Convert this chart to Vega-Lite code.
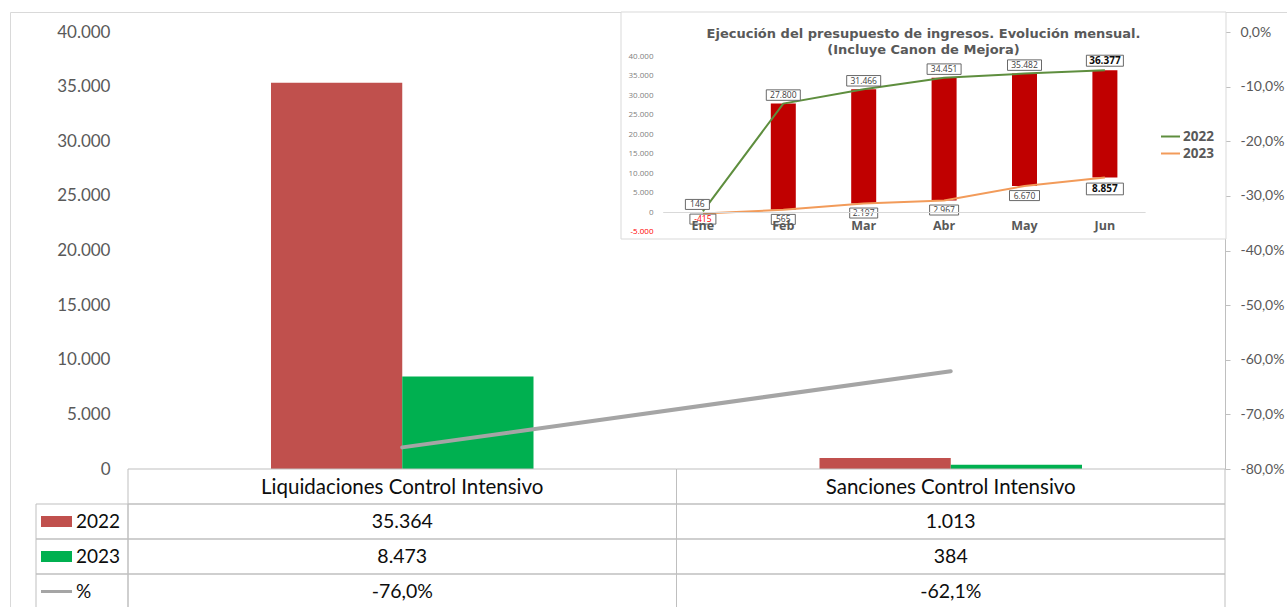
{
  "$schema": "https://vega.github.io/schema/vega-lite/v6.json",
  "width": 1282,
  "height": 600,
  "autosize": {"type": "none"},
  "padding": {"left": 10, "top": 12, "right": -5, "bottom": -5},
  "background": "white",
  "config": {
    "font": "Lato",
    "view": {"stroke": "#D9D9D9", "strokeWidth": 1},
    "locale": {"number": {"decimal": ",", "thousands": ".", "grouping": [3], "currency": ["", " €"], "minus": "-"}}
  },
  "datasets": {
    "main": [
      {"cat": "Liquidaciones Control Intensivo", "serie": "2022", "value": 35364},
      {"cat": "Liquidaciones Control Intensivo", "serie": "2023", "value": 8473},
      {"cat": "Sanciones Control Intensivo", "serie": "2022", "value": 1013},
      {"cat": "Sanciones Control Intensivo", "serie": "2023", "value": 384}
    ],
    "pct": [
      {"cat": "Liquidaciones Control Intensivo", "pct": -0.7604},
      {"cat": "Sanciones Control Intensivo", "pct": -0.6209}
    ],
    "legend": [{"serie": "2022"}, {"serie": "2023"}, {"serie": "%"}],
    "inset": [
      {"month": "Ene", "2022": 146, "2023": -415},
      {"month": "Feb", "2022": 27800, "2023": 565},
      {"month": "Mar", "2022": 31466, "2023": 2197},
      {"month": "Abr", "2022": 34451, "2023": 2967},
      {"month": "May", "2022": 35482, "2023": 6670},
      {"month": "Jun", "2022": 36377, "2023": 8857}
    ],
    "frame": [{"panel": "inset"}]
  },
  "resolve": {
    "scale": {"x": "independent", "y": "independent", "xOffset": "independent", "color": "independent", "shape": "independent"},
    "axis": {"x": "independent", "y": "independent"},
    "legend": {"color": "independent", "shape": "independent"}
  },
  "layer": [
    {
      "data": {"name": "main"},
      "mark": {"type": "bar"},
      "encoding": {
        "x": {"field": "cat", "type": "nominal", "scale": {"type": "band", "domain": ["Liquidaciones Control Intensivo", "Sanciones Control Intensivo"], "range": [118, 1215], "paddingInner": 0, "paddingOuter": 0}, "axis": null},
        "xOffset": {"field": "serie", "type": "nominal", "scale": {"domain": ["2022", "2023"], "range": [143, 405.5], "paddingInner": 0, "paddingOuter": 0}},
        "y": {"field": "value", "type": "quantitative", "scale": {"domain": [0, 40000], "range": [457, 20], "nice": false}, "axis": {"orient": "left", "offset": -100, "domain": false, "ticks": false, "tickSize": 0, "grid": false, "labelPadding": 0, "values": [0, 5000, 10000, 15000, 20000, 25000, 30000, 35000, 40000], "format": ",.0f", "labelFontSize": 17, "labelColor": "#595959", "title": null}},
        "color": {"field": "serie", "type": "nominal", "scale": {"domain": ["2022", "2023"], "range": ["#C0504D", "#00B050"]}, "legend": null}
      }
    },
    {
      "data": {"name": "pct"},
      "mark": {"type": "line", "color": "#A5A5A5", "strokeWidth": 4, "strokeCap": "round"},
      "encoding": {
        "x": {"field": "cat", "type": "nominal", "scale": {"type": "band", "domain": ["Liquidaciones Control Intensivo", "Sanciones Control Intensivo"], "range": [118, 1215], "paddingInner": 0, "paddingOuter": 0}, "axis": null},
        "y": {"field": "pct", "type": "quantitative", "scale": {"domain": [-0.8, 0], "range": [457, 20], "nice": false, "zero": false}, "axis": {"orient": "right", "offset": -67, "domain": true, "domainColor": "#BFBFBF", "ticks": true, "tickColor": "#BFBFBF", "tickSize": 5, "grid": false, "labelPadding": 10, "values": [-0.8, -0.7, -0.6, -0.5, -0.4, -0.3, -0.2, -0.1, 0], "format": ".1%", "labelFontSize": 14, "labelColor": "#595959", "title": null}}
      }
    },
    {
      "data": {"name": "pct"},
      "mark": {"type": "rect", "filled": false, "stroke": "#BFBFBF", "strokeWidth": 1},
      "encoding": {
        "x": {"field": "cat", "type": "nominal", "scale": {"type": "band", "domain": ["Liquidaciones Control Intensivo", "Sanciones Control Intensivo"], "range": [118, 1215], "paddingInner": 0, "paddingOuter": 0}, "axis": null},
        "y": {"datum": "hdr", "type": "nominal", "scale": {"type": "band", "domain": ["hdr", "2022", "2023", "%"], "range": [457, 597], "paddingInner": 0, "paddingOuter": 0}, "axis": null}
      }
    },
    {
      "data": {"name": "main"},
      "mark": {"type": "rect", "filled": false, "stroke": "#BFBFBF", "strokeWidth": 1},
      "encoding": {
        "x": {"field": "cat", "type": "nominal", "scale": {"type": "band", "domain": ["Liquidaciones Control Intensivo", "Sanciones Control Intensivo"], "range": [118, 1215], "paddingInner": 0, "paddingOuter": 0}, "axis": null},
        "y": {"field": "serie", "type": "nominal", "scale": {"type": "band", "domain": ["hdr", "2022", "2023", "%"], "range": [457, 597], "paddingInner": 0, "paddingOuter": 0}, "axis": null}
      }
    },
    {
      "data": {"name": "pct"},
      "mark": {"type": "rect", "filled": false, "stroke": "#BFBFBF", "strokeWidth": 1},
      "encoding": {
        "x": {"field": "cat", "type": "nominal", "scale": {"type": "band", "domain": ["Liquidaciones Control Intensivo", "Sanciones Control Intensivo"], "range": [118, 1215], "paddingInner": 0, "paddingOuter": 0}, "axis": null},
        "y": {"datum": "%", "type": "nominal", "scale": {"type": "band", "domain": ["hdr", "2022", "2023", "%"], "range": [457, 597], "paddingInner": 0, "paddingOuter": 0}, "axis": null}
      }
    },
    {
      "data": {"name": "legend"},
      "mark": {"type": "rect", "filled": false, "stroke": "#BFBFBF", "strokeWidth": 1},
      "encoding": {
        "x": {"datum": "L", "type": "nominal", "scale": {"type": "band", "domain": ["L"], "range": [26, 118], "paddingInner": 0, "paddingOuter": 0}, "axis": null},
        "y": {"field": "serie", "type": "nominal", "scale": {"type": "band", "domain": ["hdr", "2022", "2023", "%"], "range": [457, 597], "paddingInner": 0, "paddingOuter": 0}, "axis": null}
      }
    },
    {
      "data": {"name": "legend"},
      "transform": [{"filter": "datum.serie != '%'"}],
      "mark": {"type": "point", "filled": true, "opacity": 1, "size": 961},
      "encoding": {
        "x": {"datum": "L", "type": "nominal", "bandPosition": 0.223, "scale": {"type": "band", "domain": ["L"], "range": [26, 118], "paddingInner": 0, "paddingOuter": 0}, "axis": null},
        "y": {"field": "serie", "type": "nominal", "scale": {"type": "band", "domain": ["hdr", "2022", "2023", "%"], "range": [457, 597], "paddingInner": 0, "paddingOuter": 0}, "axis": null},
        "shape": {"field": "serie", "type": "nominal", "scale": {"domain": ["2022", "2023"], "range": ["M-1,-0.355H1V0.355H-1Z", "M-1,-0.355H1V0.355H-1Z"]}, "legend": null},
        "color": {"field": "serie", "type": "nominal", "scale": {"domain": ["2022", "2023"], "range": ["#C0504D", "#00B050"]}, "legend": null}
      }
    },
    {
      "data": {"name": "legend"},
      "transform": [{"filter": "datum.serie == '%'"}],
      "mark": {"type": "point", "filled": false, "opacity": 1, "size": 961, "shape": "M-1,0H1", "stroke": "#A5A5A5", "strokeWidth": 3},
      "encoding": {
        "x": {"datum": "L", "type": "nominal", "bandPosition": 0.223, "scale": {"type": "band", "domain": ["L"], "range": [26, 118], "paddingInner": 0, "paddingOuter": 0}, "axis": null},
        "y": {"field": "serie", "type": "nominal", "scale": {"type": "band", "domain": ["hdr", "2022", "2023", "%"], "range": [457, 597], "paddingInner": 0, "paddingOuter": 0}, "axis": null}
      }
    },
    {
      "data": {"name": "legend"},
      "mark": {"type": "text", "align": "left", "baseline": "middle", "fontSize": 19, "color": "#0D0D0D"},
      "encoding": {
        "x": {"datum": "L", "type": "nominal", "bandPosition": 0.435, "scale": {"type": "band", "domain": ["L"], "range": [26, 118], "paddingInner": 0, "paddingOuter": 0}, "axis": null},
        "y": {"field": "serie", "type": "nominal", "scale": {"type": "band", "domain": ["hdr", "2022", "2023", "%"], "range": [457, 597], "paddingInner": 0, "paddingOuter": 0}, "axis": null},
        "text": {"field": "serie", "type": "nominal"}
      }
    },
    {
      "data": {"name": "pct"},
      "mark": {"type": "text", "align": "center", "baseline": "middle", "fontSize": 20.5, "color": "#0D0D0D"},
      "encoding": {
        "x": {"field": "cat", "type": "nominal", "scale": {"type": "band", "domain": ["Liquidaciones Control Intensivo", "Sanciones Control Intensivo"], "range": [118, 1215], "paddingInner": 0, "paddingOuter": 0}, "axis": null},
        "y": {"datum": "hdr", "type": "nominal", "bandPosition": 0.55, "scale": {"type": "band", "domain": ["hdr", "2022", "2023", "%"], "range": [457, 597], "paddingInner": 0, "paddingOuter": 0}, "axis": null},
        "text": {"field": "cat", "type": "nominal"}
      }
    },
    {
      "data": {"name": "main"},
      "mark": {"type": "text", "align": "center", "baseline": "middle", "fontSize": 19.5, "color": "#0D0D0D"},
      "encoding": {
        "x": {"field": "cat", "type": "nominal", "scale": {"type": "band", "domain": ["Liquidaciones Control Intensivo", "Sanciones Control Intensivo"], "range": [118, 1215], "paddingInner": 0, "paddingOuter": 0}, "axis": null},
        "y": {"field": "serie", "type": "nominal", "scale": {"type": "band", "domain": ["hdr", "2022", "2023", "%"], "range": [457, 597], "paddingInner": 0, "paddingOuter": 0}, "axis": null},
        "text": {"field": "value", "type": "quantitative", "format": ",.0f"}
      }
    },
    {
      "data": {"name": "pct"},
      "mark": {"type": "text", "align": "center", "baseline": "middle", "fontSize": 19.5, "color": "#0D0D0D"},
      "encoding": {
        "x": {"field": "cat", "type": "nominal", "scale": {"type": "band", "domain": ["Liquidaciones Control Intensivo", "Sanciones Control Intensivo"], "range": [118, 1215], "paddingInner": 0, "paddingOuter": 0}, "axis": null},
        "y": {"datum": "%", "type": "nominal", "scale": {"type": "band", "domain": ["hdr", "2022", "2023", "%"], "range": [457, 597], "paddingInner": 0, "paddingOuter": 0}, "axis": null},
        "text": {"field": "pct", "type": "quantitative", "format": ".1%"}
      }
    },
    {
      "data": {"name": "frame"},
      "mark": {"type": "rect", "fill": "white", "stroke": "#D9D9D9", "strokeWidth": 1},
      "encoding": {
        "x": {"field": "panel", "type": "nominal", "scale": {"type": "band", "domain": ["inset"], "range": [611, 1216], "paddingInner": 0, "paddingOuter": 0}, "axis": null},
        "y": {"field": "panel", "type": "nominal", "scale": {"type": "band", "domain": ["inset"], "range": [0, 227], "paddingInner": 0, "paddingOuter": 0}, "axis": null}
      }
    },
    {
      "data": {"name": "frame"},
      "mark": {"type": "text", "text": ["Ejecución del presupuesto de ingresos. Evolución mensual.", "(Incluye Canon de Mejora)"], "align": "center", "baseline": "middle", "lineHeight": 15.5, "font": "DejaVu Sans", "fontSize": 13, "fontWeight": "bold", "color": "#595959"},
      "encoding": {
        "x": {"field": "panel", "type": "nominal", "scale": {"type": "band", "domain": ["inset"], "range": [611, 1216], "paddingInner": 0, "paddingOuter": 0}, "axis": null},
        "y": {"field": "panel", "type": "nominal", "bandPosition": 0.098, "scale": {"type": "band", "domain": ["inset"], "range": [0, 227], "paddingInner": 0, "paddingOuter": 0}, "axis": null}
      }
    },
    {
      "data": {"name": "inset"},
      "transform": [{"filter": "datum.month != 'Ene'"}],
      "mark": {"type": "bar", "width": 25, "color": "#C00000"},
      "encoding": {
        "x": {"field": "month", "type": "nominal", "scale": {"type": "band", "domain": ["Ene", "Feb", "Mar", "Abr", "May", "Jun"], "range": [652.7, 1135.1], "paddingInner": 0, "paddingOuter": 0}, "axis": {"orient": "bottom", "offset": -400, "zindex": 1, "domain": true, "domainColor": "#D9D9D9", "ticks": false, "grid": false, "labelPadding": 7, "labelAngle": 0, "labelFont": "Open Sans", "labelFontSize": 12.5, "labelFontWeight": "bold", "labelColor": "#595959", "title": null}},
        "y": {"field": "2023", "type": "quantitative", "scale": {"domain": [-5000, 40000], "range": [219.5, 44], "nice": false, "zero": false}, "axis": {"orient": "left", "offset": -643, "zindex": 1, "domain": false, "ticks": false, "tickSize": 0, "grid": false, "labelPadding": 0, "values": [-5000, 0, 5000, 10000, 15000, 20000, 25000, 30000, 35000, 40000], "format": ",.0f", "labelFont": "Open Sans", "labelFontSize": 8, "labelColor": {"condition": {"test": "datum.value < 0", "value": "#FF0000"}, "value": "#808080"}, "title": null}},
        "y2": {"field": "2022"}
      }
    },
    {
      "data": {"name": "inset"},
      "transform": [{"fold": ["2022", "2023"], "as": ["serie", "value"]}],
      "mark": {"type": "line", "strokeWidth": 2},
      "encoding": {
        "x": {"field": "month", "type": "nominal", "scale": {"type": "band", "domain": ["Ene", "Feb", "Mar", "Abr", "May", "Jun"], "range": [652.7, 1135.1], "paddingInner": 0, "paddingOuter": 0}, "axis": null},
        "y": {"field": "value", "type": "quantitative", "scale": {"domain": [-5000, 40000], "range": [219.5, 44], "nice": false, "zero": false}, "axis": null},
        "color": {"field": "serie", "type": "nominal", "scale": {"domain": ["2022", "2023"], "range": ["#5E8E3E", "#F29B5A"]}, "legend": {"orient": "none", "legendX": 1150, "legendY": 114, "title": null, "padding": 0, "symbolType": "stroke", "symbolSize": 361, "symbolStrokeWidth": 2, "rowPadding": -2, "labelOffset": 2, "labelFont": "Open Sans", "labelFontSize": 13.5, "labelFontWeight": "bold", "labelColor": "#595959"}}
      }
    },
    {
      "data": {"name": "inset"},
      "mark": {"type": "point", "filled": true, "opacity": 1, "fill": "white", "stroke": "#595959", "strokeWidth": 0.9, "size": 400},
      "encoding": {
        "x": {"field": "month", "type": "nominal", "scale": {"type": "band", "domain": ["Ene", "Feb", "Mar", "Abr", "May", "Jun"], "range": [652.7, 1135.1], "paddingInner": 0, "paddingOuter": 0}, "axis": null},
        "y": {"field": "2022", "type": "quantitative", "scale": {"domain": [-5000, 40000], "range": [219.5, 44], "nice": false, "zero": false}, "axis": null},
        "shape": {"field": "month", "type": "nominal", "scale": {"domain": ["Ene", "Feb", "Mar", "Abr", "May", "Jun"], "range": ["M-1.75,-1.2H0.65V-0.2H-1.75Z", "M-1.7,-1.375H1.7V-0.325H-1.7Z", "M-1.7,-1.375H1.7V-0.325H-1.7Z", "M-1.7,-1.375H1.7V-0.325H-1.7Z", "M-1.7,-1.375H1.7V-0.325H-1.7Z", "M-1.85,-1.49H1.85V-0.39H-1.85Z"]}, "legend": null}
      }
    },
    {
      "data": {"name": "inset"},
      "mark": {"type": "point", "filled": true, "opacity": 1, "fill": "white", "stroke": "#595959", "strokeWidth": 0.9, "size": 400},
      "encoding": {
        "x": {"field": "month", "type": "nominal", "scale": {"type": "band", "domain": ["Ene", "Feb", "Mar", "Abr", "May", "Jun"], "range": [652.7, 1135.1], "paddingInner": 0, "paddingOuter": 0}, "axis": null},
        "y": {"field": "2023", "type": "quantitative", "scale": {"domain": [-5000, 40000], "range": [219.5, 44], "nice": false, "zero": false}, "axis": null},
        "shape": {"field": "month", "type": "nominal", "scale": {"domain": ["Ene", "Feb", "Mar", "Abr", "May", "Jun"], "range": ["M-1.3,0.05H1.3V1.05H-1.3Z", "M-1.2,0.46H1.2V1.46H-1.2Z", "M-1.4,0.46H1.4V1.46H-1.4Z", "M-1.45,0.46H1.45V1.46H-1.45Z", "M-1.5,0.46H1.5V1.46H-1.5Z", "M-1.85,0.565H1.85V1.735H-1.85Z"]}, "legend": null}
      }
    },
    {
      "data": {"name": "inset"},
      "transform": [{"filter": "datum.month != 'Ene' && datum.month != 'Jun'"}],
      "mark": {"type": "text", "align": "center", "baseline": "middle", "dy": -8.5, "font": "Open Sans", "fontSize": 8.5, "color": "#404040"},
      "encoding": {
        "x": {"field": "month", "type": "nominal", "scale": {"type": "band", "domain": ["Ene", "Feb", "Mar", "Abr", "May", "Jun"], "range": [652.7, 1135.1], "paddingInner": 0, "paddingOuter": 0}, "axis": null},
        "y": {"field": "2022", "type": "quantitative", "scale": {"domain": [-5000, 40000], "range": [219.5, 44], "nice": false, "zero": false}, "axis": null},
        "text": {"field": "2022", "type": "quantitative", "format": ",.0f"}
      }
    },
    {
      "data": {"name": "inset"},
      "transform": [{"filter": "datum.month == 'Jun'"}],
      "mark": {"type": "text", "align": "center", "baseline": "middle", "dy": -9.4, "font": "Open Sans", "fontSize": 10, "fontWeight": "bold", "color": "#0D0D0D"},
      "encoding": {
        "x": {"field": "month", "type": "nominal", "scale": {"type": "band", "domain": ["Ene", "Feb", "Mar", "Abr", "May", "Jun"], "range": [652.7, 1135.1], "paddingInner": 0, "paddingOuter": 0}, "axis": null},
        "y": {"field": "2022", "type": "quantitative", "scale": {"domain": [-5000, 40000], "range": [219.5, 44], "nice": false, "zero": false}, "axis": null},
        "text": {"field": "2022", "type": "quantitative", "format": ",.0f"}
      }
    },
    {
      "data": {"name": "inset"},
      "transform": [{"filter": "datum.month == 'Ene'"}],
      "mark": {"type": "text", "align": "center", "baseline": "middle", "dx": -5.5, "dy": -7, "font": "Open Sans", "fontSize": 8.5, "color": "#404040"},
      "encoding": {
        "x": {"field": "month", "type": "nominal", "scale": {"type": "band", "domain": ["Ene", "Feb", "Mar", "Abr", "May", "Jun"], "range": [652.7, 1135.1], "paddingInner": 0, "paddingOuter": 0}, "axis": null},
        "y": {"field": "2022", "type": "quantitative", "scale": {"domain": [-5000, 40000], "range": [219.5, 44], "nice": false, "zero": false}, "axis": null},
        "text": {"field": "2022", "type": "quantitative", "format": ",.0f"}
      }
    },
    {
      "data": {"name": "inset"},
      "transform": [{"filter": "datum.month != 'Ene' && datum.month != 'Jun'"}],
      "mark": {"type": "text", "align": "center", "baseline": "middle", "dy": 9.6, "font": "Open Sans", "fontSize": 8.5, "color": "#404040"},
      "encoding": {
        "x": {"field": "month", "type": "nominal", "scale": {"type": "band", "domain": ["Ene", "Feb", "Mar", "Abr", "May", "Jun"], "range": [652.7, 1135.1], "paddingInner": 0, "paddingOuter": 0}, "axis": null},
        "y": {"field": "2023", "type": "quantitative", "scale": {"domain": [-5000, 40000], "range": [219.5, 44], "nice": false, "zero": false}, "axis": null},
        "text": {"field": "2023", "type": "quantitative", "format": ",.0f"}
      }
    },
    {
      "data": {"name": "inset"},
      "transform": [{"filter": "datum.month == 'Jun'"}],
      "mark": {"type": "text", "align": "center", "baseline": "middle", "dy": 11.5, "font": "Open Sans", "fontSize": 10, "fontWeight": "bold", "color": "#0D0D0D"},
      "encoding": {
        "x": {"field": "month", "type": "nominal", "scale": {"type": "band", "domain": ["Ene", "Feb", "Mar", "Abr", "May", "Jun"], "range": [652.7, 1135.1], "paddingInner": 0, "paddingOuter": 0}, "axis": null},
        "y": {"field": "2023", "type": "quantitative", "scale": {"domain": [-5000, 40000], "range": [219.5, 44], "nice": false, "zero": false}, "axis": null},
        "text": {"field": "2023", "type": "quantitative", "format": ",.0f"}
      }
    },
    {
      "data": {"name": "inset"},
      "transform": [{"filter": "datum.month == 'Ene'"}],
      "mark": {"type": "text", "align": "center", "baseline": "middle", "dy": 5.5, "font": "Open Sans", "fontSize": 8.5, "color": "#FF0000"},
      "encoding": {
        "x": {"field": "month", "type": "nominal", "scale": {"type": "band", "domain": ["Ene", "Feb", "Mar", "Abr", "May", "Jun"], "range": [652.7, 1135.1], "paddingInner": 0, "paddingOuter": 0}, "axis": null},
        "y": {"field": "2023", "type": "quantitative", "scale": {"domain": [-5000, 40000], "range": [219.5, 44], "nice": false, "zero": false}, "axis": null},
        "text": {"field": "2023", "type": "quantitative", "format": ",.0f"}
      }
    }
  ]
}
